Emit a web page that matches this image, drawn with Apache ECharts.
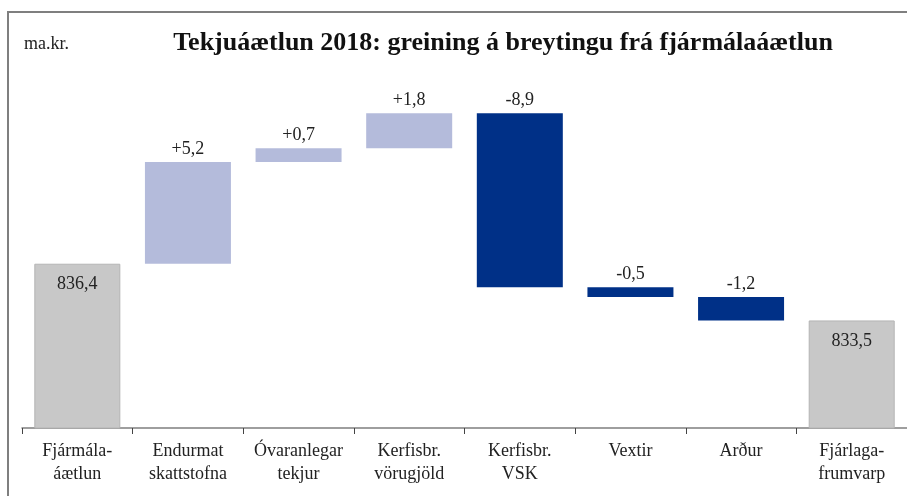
<!DOCTYPE html>
<html>
<head>
<meta charset="utf-8">
<script src="https://cdn.jsdelivr.net/npm/echarts@6/dist/echarts.min.js"></script>
<style>
  html, body { margin: 0; padding: 0; background: #fff; }
  #main { width: 907px; height: 496px; }
</style>
</head>
<body>
<div id="main"></div>
<script>
// NOTE - Data

const categories = ['Fjármála-\náætlun', 'Endurmat\nskattstofna', 'Óvaranlegar\ntekjur',
  'Kerfisbr.\nvörugjöld', 'Kerfisbr.\nVSK', 'Vextir', 'Arður', 'Fjárlaga-\nfrumvarp'];
const startTotal = 836.4;
const changes = [5.2, 0.7, 1.8, -8.9, -0.5, -1.2];
const endTotal = 833.5;

// NOTE - Waterfall pieces

const fmt = v => v.toFixed(1).replace('.', ',');

let baseData = ['-'];
let totalData = [startTotal];
let upData = ['-'];
let downData = ['-'];
let running = startTotal;
changes.forEach(c => {
  const next = +(running + c).toFixed(1);
  baseData.push(Math.min(running, next));
  totalData.push('-');
  upData.push(c > 0 ? c : '-');
  downData.push(c < 0 ? -c : '-');
  running = next;
});
baseData.push('-');
totalData.push(endTotal);
upData.push('-');
downData.push('-');

const serif = 'Liberation Serif, Times New Roman, serif';

var myChart = echarts.init(document.getElementById('main'));

var option = {
  animation: false,
  textStyle: { fontFamily: serif },
  title: {
    text: 'Tekjuáætlun 2018: greining á breytingu frá fjármálaáætlun',
    left: 498,
    textAlign: 'center',
    top: 25,
    textStyle: { fontFamily: serif, fontSize: 26, fontWeight: 'bold', color: '#111' }
  },
  graphic: [
    {
      type: 'polyline',
      shape: { points: [[8, 496], [8, 12], [907, 12]] },
      style: { stroke: '#7f7f7f', lineWidth: 2, fill: null }
    },
    {
      type: 'text',
      left: 24,
      top: 35,
      style: { text: 'ma.kr.', font: '18px ' + serif, fill: '#222' }
    }
  ],
  grid: { left: 22, right: -3, top: 76, bottom: 68 },
  xAxis: {
    type: 'category',
    data: categories,
    axisLine: { lineStyle: { color: '#7f7f7f', width: 1.5 } },
    axisTick: { show: true, length: 6, lineStyle: { color: '#444', width: 1 } },
    axisLabel: {
      interval: 0,
      margin: 12,
      fontFamily: serif,
      fontSize: 18,
      lineHeight: 23,
      color: '#222'
    }
  },
  yAxis: {
    type: 'value',
    min: 828,
    max: 846,
    show: false,
    splitLine: { show: false }
  },
  series: [
    {
      name: 'base',
      type: 'bar',
      stack: 'w',
      barWidth: 86,
      itemStyle: { color: 'transparent' },
      emphasis: { disabled: true },
      data: baseData
    },
    {
      name: 'total',
      type: 'bar',
      stack: 'w',
      itemStyle: { color: '#c8c8c8', borderColor: '#b4b4b4', borderWidth: 1 },
      label: {
        show: true,
        position: 'insideTop',
        distance: 12,
        fontFamily: serif,
        fontSize: 18,
        color: '#222',
        formatter: p => fmt(p.value)
      },
      data: totalData
    },
    {
      name: 'up',
      type: 'bar',
      stack: 'w',
      itemStyle: { color: '#b4bbdb' },
      label: {
        show: true,
        position: 'top',
        distance: 4,
        fontFamily: serif,
        fontSize: 18,
        color: '#222',
        formatter: p => '+' + fmt(p.value)
      },
      data: upData
    },
    {
      name: 'down',
      type: 'bar',
      stack: 'w',
      itemStyle: { color: '#003087' },
      label: {
        show: true,
        position: 'top',
        distance: 4,
        fontFamily: serif,
        fontSize: 18,
        color: '#222',
        formatter: p => '-' + fmt(p.value)
      },
      data: downData
    }
  ]
};

myChart.setOption(option);
</script>
</body>
</html>
